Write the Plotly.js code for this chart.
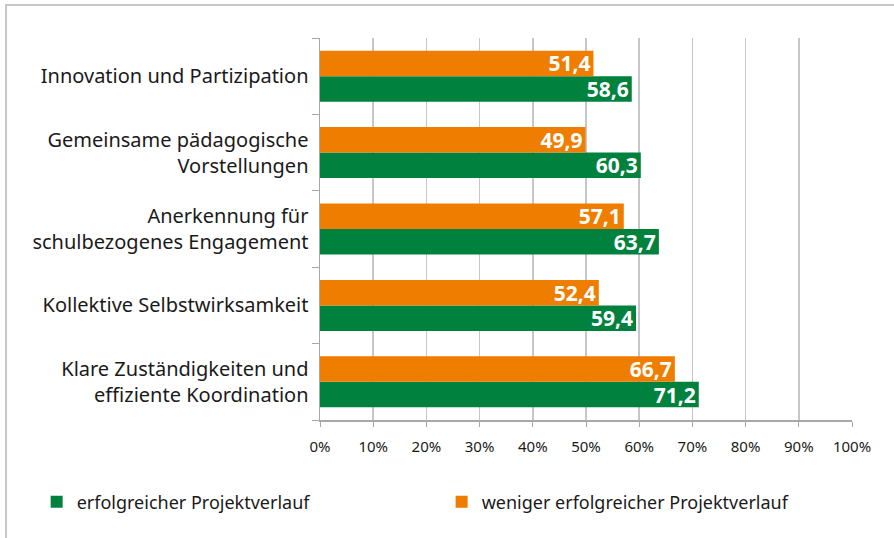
<!DOCTYPE html>
<html>
<head>
<meta charset="utf-8">
<script src="https://cdn.plot.ly/plotly-3.0.1.min.js"></script>
<style>
html,body{margin:0;padding:0;background:#fff;}
#chart{width:894px;height:538px;}
#frame{position:absolute;left:5px;top:4px;width:1000px;height:1000px;border-top:2px solid #c8c8c8;border-left:2px solid #c8c8c8;pointer-events:none;}
</style>
</head>
<body>
<div id="chart"></div>
<div id="frame"></div>
<script>
const categories = [
  "Innovation und Partizipation",
  "Gemeinsame pädagogische<br>Vorstellungen",
  "Anerkennung für<br>schulbezogenes Engagement",
  "Kollektive Selbstwirksamkeit",
  "Klare Zuständigkeiten und<br>effiziente Koordination"
];
const seriesNames = ["erfolgreicher Projektverlauf", "weniger erfolgreicher Projektverlauf"];
const erfolgreich = [58.6, 60.3, 63.7, 59.4, 71.2];
const weniger = [51.4, 49.9, 57.1, 52.4, 66.7];
const xTicks = [0,10,20,30,40,50,60,70,80,90,100];
const xTickLabels = ["0%","10%","20%","30%","40%","50%","60%","70%","80%","90%","100%"];

const FONT = "Noto Sans, Open Sans, sans-serif";
const GREEN = "#00823e";
const ORANGE = "#ef7d00";

const textFont = {family: FONT, size: 21, color: "#ffffff", weight: 700};

const traces = [
  {
    type: "bar", orientation: "h", name: seriesNames[0], legend: "legend",
    y: categories, x: erfolgreich,
    marker: {color: GREEN},
    texttemplate: "<b>%{x:.1f}</b>", textposition: "inside", insidetextanchor: "end",
    textfont: textFont, constraintext: "none", cliponaxis: false,
    hoverinfo: "skip"
  },
  {
    type: "bar", orientation: "h", name: seriesNames[1], legend: "legend2",
    y: categories, x: weniger,
    marker: {color: ORANGE},
    texttemplate: "<b>%{x:.1f}</b>", textposition: "inside", insidetextanchor: "end",
    textfont: textFont, constraintext: "none", cliponaxis: false,
    hoverinfo: "skip"
  }
];

const legendFont = {family: FONT, size: 18, color: "#1a1a1a"};

const layout = {
  width: 894, height: 538,
  margin: {l: 320, r: 42, t: 38, b: 117.5},
  paper_bgcolor: "#ffffff", plot_bgcolor: "#ffffff",
  separators: ",.",
  barmode: "group",
  bargap: 0.333, bargroupgap: 0,
  font: {family: FONT, color: "#1a1a1a"},
  showlegend: true,
  legend: {
    orientation: "h", xref: "container", yref: "container",
    x: 0.041, xanchor: "left", y: 0.067, yanchor: "middle",
    font: legendFont, itemwidth: 30
  },
  legend2: {
    orientation: "h", xref: "container", yref: "container",
    x: 0.494, xanchor: "left", y: 0.067, yanchor: "middle",
    font: legendFont, itemwidth: 30
  },
  xaxis: {
    range: [0, 100], tickvals: xTicks, ticktext: xTickLabels,
    showgrid: true, gridcolor: "#c6c6c6", gridwidth: 1.5,
    showline: true, linecolor: "#a8a8a8", linewidth: 1.5,
    ticks: "outside", ticklen: 5, tickcolor: "#a8a8a8", tickwidth: 1,
    tickfont: {family: FONT, size: 15, color: "#1a1a1a"},
    ticklabelstandoff: 7,
    zeroline: false, fixedrange: true
  },
  yaxis: {
    type: "category", categoryorder: "array", categoryarray: categories.slice().reverse(),
    showgrid: false, showline: true, linecolor: "#a8a8a8", linewidth: 1.5,
    ticks: "outside", tickson: "boundaries", ticklen: 7, tickcolor: "#a8a8a8", tickwidth: 1,
    tickfont: {family: FONT, size: 20, color: "#1a1a1a"},
    ticklabelstandoff: 6,
    zeroline: false, fixedrange: true
  }
};

Plotly.newPlot("chart", traces, layout, {displayModeBar: false, staticPlot: true});
</script>
</body>
</html>
